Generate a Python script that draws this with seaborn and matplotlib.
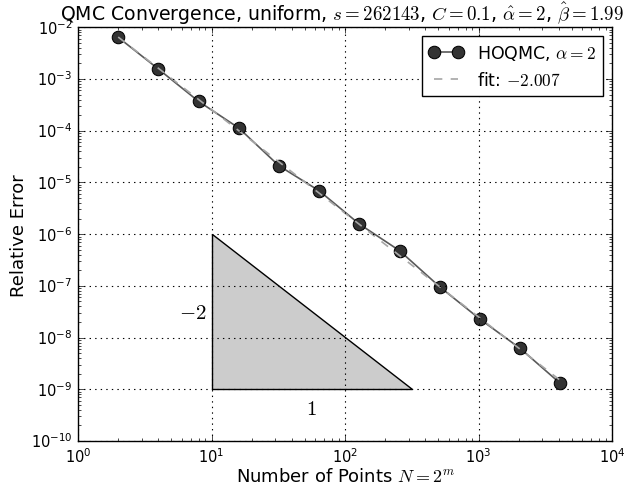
import numpy as np
import pandas as pd
import matplotlib
matplotlib.use("Agg")
import matplotlib.pyplot as plt
import seaborn as sns

# data
num_points = [2, 4, 8, 16, 32, 64, 128, 256, 512, 1024, 2048, 4096]
rel_error = [6.4e-3, 1.56e-3, 3.7e-4, 1.13e-4, 2.1e-5, 6.9e-6,
             1.57e-6, 4.8e-7, 9.6e-8, 2.28e-8, 6.2e-9, 1.3e-9]
fit_label = "fit: $-2.007$"

# slope triangle (order -2 reference)
tri_x = [10, 10, 10 ** 2.5]
tri_y = [1e-6, 1e-9, 1e-9]

plt.style.use("classic")
plt.rcParams["mathtext.fontset"] = "cm"
plt.rcParams["font.family"] = ["DejaVu Sans"]

df = pd.DataFrame({"N": num_points, "err": rel_error})

# least squares fit in log-log space
slope, icept = np.polyfit(np.log10(df["N"]), np.log10(df["err"]), 1)
df["fit"] = 10 ** (icept + slope * np.log10(df["N"]))

fig = plt.figure(figsize=(6.25, 4.89), dpi=100, facecolor="white")
ax = fig.add_axes([0.1248, 0.0961, 0.8544, 0.8460])

sns.lineplot(data=df, x="N", y="err", ax=ax, color="0.35", lw=1.2,
             marker="o", markersize=9, markerfacecolor="0.2",
             markeredgecolor="k", label=r"HOQMC, $\alpha=2$")
sns.lineplot(data=df, x="N", y="fit", ax=ax, color="0.65", lw=1.2,
             linestyle="--", label=fit_label)

ax.fill(tri_x, tri_y, facecolor="0.8", edgecolor="k", lw=1)
ax.text(7.3, 10 ** -7.5, "$-2$", fontsize=15, ha="center", va="center")
ax.text(56, 10 ** -9.36, "$1$", fontsize=15, ha="center", va="center")

ax.set_xscale("log")
ax.set_yscale("log")
ax.set_xlim(1, 1e4)
ax.set_ylim(1e-10, 1e-2)
ax.grid(True, which="major", color="k", linestyle=":", lw=0.8)

ax.set_title(r"QMC Convergence, uniform, $s=262143$, $C=0.1$, "
             r"$\hat{\alpha}=2$, $\hat{\beta}=1.99$", fontsize=13.6, x=0.494)
ax.set_xlabel(r"Number of Points $N=2^m$", fontsize=13, labelpad=1)
ax.set_ylabel("Relative Error", fontsize=13, labelpad=2)
ax.tick_params(labelsize=10.5)

ax.legend(loc="upper right", numpoints=2, fontsize=12.5, frameon=True,
          fancybox=False, edgecolor="k", handlelength=2.0)

fig.savefig("out.png", dpi=100, facecolor="white")
